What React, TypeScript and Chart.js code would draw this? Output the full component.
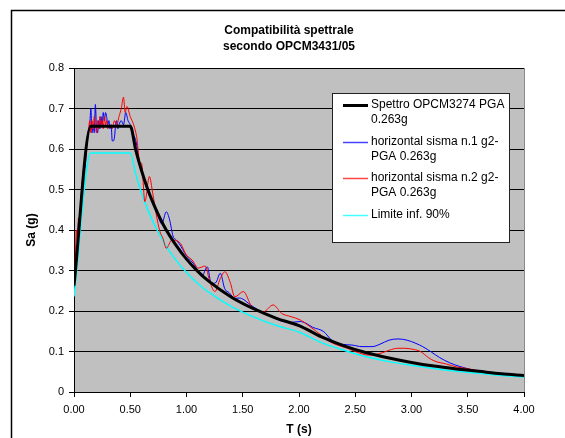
import React, { useEffect, useRef } from "react";
import { Chart, registerables } from "chart.js";

Chart.register(...registerables);

const titleLines = ["Compatibilità spettrale", "secondo OPCM3431/05"];
const xTitle = "T (s)";
const yTitle = "Sa (g)";

const specT = [0, 0.15, 0.5, 0.55, 0.6, 0.65, 0.7, 0.8, 0.9, 1.0, 1.1, 1.2, 1.4, 1.6, 1.8, 2.0, 2.2, 2.4, 2.6, 2.8, 3.0, 3.2, 3.4, 3.6, 3.8, 4.0];
const specSa = [0.263, 0.656, 0.656, 0.596, 0.547, 0.505, 0.469, 0.41, 0.365, 0.328, 0.298, 0.273, 0.234, 0.205, 0.182, 0.164, 0.136, 0.114, 0.097, 0.084, 0.073, 0.064, 0.057, 0.051, 0.045, 0.041];
const limSa = [0.236, 0.59, 0.59, 0.537, 0.492, 0.454, 0.422, 0.369, 0.328, 0.295, 0.268, 0.246, 0.211, 0.185, 0.164, 0.148, 0.122, 0.103, 0.087, 0.075, 0.066, 0.058, 0.051, 0.046, 0.041, 0.037];

const blueT = [0, 0.01, 0.02, 0.03, 0.04, 0.05, 0.06, 0.07, 0.08, 0.09, 0.1, 0.11, 0.12, 0.13, 0.14, 0.15, 0.16, 0.17, 0.18, 0.19, 0.2, 0.21, 0.22, 0.23, 0.24, 0.25, 0.26, 0.27, 0.28, 0.29, 0.3, 0.31, 0.32, 0.33, 0.34, 0.35, 0.36, 0.37, 0.38, 0.39, 0.4, 0.42, 0.44, 0.46, 0.48, 0.5, 0.52, 0.55, 0.58, 0.6, 0.63, 0.66, 0.7, 0.74, 0.78, 0.82, 0.85, 0.88, 0.91, 0.95, 0.98, 1.02, 1.06, 1.1, 1.135, 1.185, 1.22, 1.26, 1.3, 1.34, 1.38, 1.43, 1.47, 1.51, 1.55, 1.64, 1.72, 1.8, 1.86, 1.93, 2.01, 2.06, 2.12, 2.22, 2.29, 2.38, 2.47, 2.56, 2.65, 2.72, 2.8, 2.88, 2.96, 3.04, 3.1, 3.18, 3.25, 3.34, 3.43, 3.52, 3.61, 3.7, 3.8, 3.9, 4.0];
const blueSa = [0.263, 0.3, 0.36, 0.35, 0.42, 0.41, 0.45, 0.5, 0.53, 0.55, 0.56, 0.6, 0.62, 0.65, 0.66, 0.7, 0.64, 0.66, 0.64, 0.71, 0.65, 0.64, 0.67, 0.65, 0.68, 0.66, 0.69, 0.67, 0.69, 0.68, 0.66, 0.67, 0.65, 0.66, 0.62, 0.62, 0.63, 0.66, 0.67, 0.65, 0.66, 0.67, 0.66, 0.69, 0.67, 0.66, 0.64, 0.62, 0.57, 0.55, 0.52, 0.49, 0.47, 0.44, 0.415, 0.445, 0.425, 0.385, 0.375, 0.36, 0.345, 0.33, 0.318, 0.3, 0.285, 0.309, 0.268, 0.27, 0.293, 0.255, 0.245, 0.231, 0.232, 0.228, 0.219, 0.202, 0.19, 0.18, 0.174, 0.172, 0.174, 0.17, 0.16, 0.149, 0.128, 0.118, 0.116, 0.112, 0.112, 0.118, 0.128, 0.131, 0.128, 0.12, 0.112, 0.098, 0.085, 0.072, 0.063, 0.056, 0.05, 0.047, 0.045, 0.043, 0.042];

const redT = [0, 0.01, 0.02, 0.03, 0.04, 0.05, 0.06, 0.07, 0.08, 0.09, 0.1, 0.11, 0.12, 0.13, 0.14, 0.15, 0.16, 0.17, 0.18, 0.19, 0.2, 0.21, 0.22, 0.23, 0.24, 0.25, 0.26, 0.27, 0.28, 0.29, 0.3, 0.32, 0.34, 0.36, 0.38, 0.4, 0.42, 0.44, 0.455, 0.47, 0.5, 0.53, 0.557, 0.587, 0.6, 0.63, 0.67, 0.7, 0.73, 0.764, 0.79, 0.82, 0.87, 0.94, 1.0, 1.05, 1.105, 1.165, 1.21, 1.253, 1.3, 1.342, 1.387, 1.43, 1.505, 1.58, 1.683, 1.77, 1.846, 1.93, 2.01, 2.08, 2.157, 2.276, 2.35, 2.41, 2.5, 2.62, 2.72, 2.8, 2.88, 2.94, 3.02, 3.08, 3.15, 3.2, 3.31, 3.4, 3.49, 3.6, 3.7, 3.8, 3.9, 4.0];
const redSa = [0.263, 0.32, 0.4, 0.37, 0.43, 0.42, 0.47, 0.51, 0.54, 0.56, 0.58, 0.61, 0.63, 0.65, 0.67, 0.64, 0.67, 0.65, 0.68, 0.66, 0.64, 0.67, 0.65, 0.68, 0.66, 0.67, 0.65, 0.68, 0.66, 0.67, 0.65, 0.66, 0.65, 0.67, 0.66, 0.68, 0.7, 0.728, 0.69, 0.705, 0.68, 0.66, 0.63, 0.565, 0.565, 0.47, 0.532, 0.49, 0.44, 0.396, 0.38, 0.355, 0.375, 0.369, 0.338, 0.326, 0.306, 0.311, 0.27, 0.248, 0.28, 0.297, 0.272, 0.235, 0.248, 0.211, 0.198, 0.215, 0.194, 0.186, 0.178, 0.165, 0.149, 0.124, 0.115, 0.11, 0.1, 0.091, 0.095, 0.103, 0.108, 0.108, 0.105, 0.1, 0.085, 0.077, 0.069, 0.062, 0.058, 0.052, 0.048, 0.045, 0.043, 0.042];

const yTicks = [0, 0.1, 0.2, 0.3, 0.4, 0.5, 0.6, 0.7, 0.8];
const xTicks = [0, 0.5, 1, 1.5, 2, 2.5, 3, 3.5, 4];

const legendItems = [
  { lines: ["Spettro OPCM3274 PGA", "0.263g"], color: "#000000", width: 3 },
  { lines: ["horizontal sisma n.1 g2-", "PGA 0.263g"], color: "#4444FF", width: 1.5 },
  { lines: ["horizontal sisma n.2 g2-", "PGA 0.263g"], color: "#FF4444", width: 1.5 },
  { lines: ["Limite inf. 90%"], color: "#44FFFF", width: 1.5 },
];

const FONT = '"Liberation Sans", Arial, sans-serif';

const zip = (xs: number[], ys: number[]) => xs.map((x, i) => ({ x, y: ys[i] }));

export default function App() {
  const ref = useRef<HTMLCanvasElement>(null);
  useEffect(() => {
    const canvas = ref.current!;
    const decor = {
      id: "decor",
      beforeDraw(chart: any) {
        const { ctx, chartArea: a } = chart;
        ctx.save();
        ctx.fillStyle = "#ffffff";
        ctx.fillRect(0, 0, chart.width, chart.height);
        ctx.fillStyle = "#C0C0C0";
        ctx.fillRect(a.left, a.top, a.right - a.left, a.bottom - a.top);
        ctx.restore();
      },
      afterDraw(chart: any) {
        const { ctx, chartArea: a } = chart;
        ctx.save();
        // plot right edge
        ctx.strokeStyle = "#8a8a8a";
        ctx.lineWidth = 1;
        ctx.beginPath();
        ctx.moveTo(a.right + 0.5, a.top);
        ctx.lineTo(a.right + 0.5, a.bottom);
        ctx.stroke();
        // outer frame
        ctx.strokeStyle = "#000";
        ctx.lineWidth = 1.5;
        ctx.beginPath();
        ctx.moveTo(11.5, chart.height + 2);
        ctx.lineTo(11.5, 10.5);
        ctx.lineTo(chart.width + 2, 10.5);
        ctx.stroke();
        // title
        ctx.fillStyle = "#000";
        ctx.font = "bold 12px " + FONT;
        ctx.textAlign = "center";
        ctx.textBaseline = "middle";
        ctx.fillText(titleLines[0], 289, 31);
        ctx.fillText(titleLines[1], 289, 47);
        // axis titles
        ctx.fillText(xTitle, (a.left + a.right) / 2, 430);
        ctx.save();
        ctx.translate(32, (a.top + a.bottom) / 2);
        ctx.rotate(-Math.PI / 2);
        ctx.fillText(yTitle, 0, 0);
        ctx.restore();
        // legend
        const lx = 332, ly = 93, lw = 177, lh = 149;
        ctx.fillStyle = "#ffffff";
        ctx.fillRect(lx, ly, lw, lh);
        ctx.strokeStyle = "#222";
        ctx.lineWidth = 1;
        ctx.strokeRect(lx + 0.5, ly + 0.5, lw, lh);
        ctx.font = "12px " + FONT;
        ctx.textAlign = "left";
        const rows = [105, 142, 178, 215];
        legendItems.forEach((it, i) => {
          const y = rows[i];
          ctx.strokeStyle = it.color;
          ctx.lineWidth = it.width;
          ctx.beginPath();
          ctx.moveTo(343, y + 0.5);
          ctx.lineTo(368, y + 0.5);
          ctx.stroke();
          ctx.fillStyle = "#000";
          it.lines.forEach((t, j) => ctx.fillText(t, 371, y + j * 15));
        });
        ctx.restore();
      },
    };
    const chart = new Chart(canvas, {
      type: "line",
      data: {
        datasets: [
          { label: legendItems[0].lines.join(" "), data: zip(specT, specSa), borderColor: "#000000", borderWidth: 3, order: 0, cubicInterpolationMode: "monotone" },
          { label: legendItems[2].lines.join(" "), data: zip(redT, redSa), borderColor: "#FF0000", borderWidth: 1, order: 1, cubicInterpolationMode: "monotone" },
          { label: legendItems[1].lines.join(" "), data: zip(blueT, blueSa), borderColor: "#0000FF", borderWidth: 1, order: 2, cubicInterpolationMode: "monotone" },
          { label: legendItems[3].lines.join(" "), data: zip(specT, limSa), borderColor: "#00FFFF", borderWidth: 1.5, order: 3, cubicInterpolationMode: "monotone" },
        ] as any,
      },
      options: {
        animation: false,
        responsive: false,
        devicePixelRatio: 1,
        events: [],
        elements: { point: { radius: 0 } },
        layout: { padding: { left: 0, top: 68, right: 41, bottom: 0 } },
        plugins: { legend: { display: false }, title: { display: false }, tooltip: { enabled: false } },
        scales: {
          x: {
            type: "linear",
            min: 0,
            max: 4,
            afterFit: (s: any) => { s.height = 46; },
            afterBuildTicks: (s: any) => { s.ticks = xTicks.map((v) => ({ value: v })); },
            ticks: { font: { family: FONT, size: 11 }, color: "#000", padding: 6, maxRotation: 0, autoSkip: false, callback: (v: any) => Number(v).toFixed(2) },
            grid: { drawOnChartArea: false, color: "#000", tickLength: 5 },
            border: { color: "#000", width: 1 },
          },
          y: {
            type: "linear",
            min: 0,
            max: 0.8,
            afterFit: (s: any) => { s.width = 74; },
            afterBuildTicks: (s: any) => { s.ticks = yTicks.map((v) => ({ value: v })); },
            ticks: { font: { family: FONT, size: 11 }, color: "#000", padding: 5, autoSkip: false, callback: (v: any) => (Number(v) === 0 ? "0" : Number(v).toFixed(1)) },
            grid: { color: "#000", tickLength: 5 },
            border: { color: "#000", width: 1 },
          },
        },
      },
      plugins: [decor],
    });
    return () => chart.destroy();
  }, []);
  return (
    <div style={{ position: "fixed", left: 0, top: 0, width: 565, height: 438 }}>
      <canvas ref={ref} width={565} height={438} style={{ display: "block" }} />
    </div>
  );
}
